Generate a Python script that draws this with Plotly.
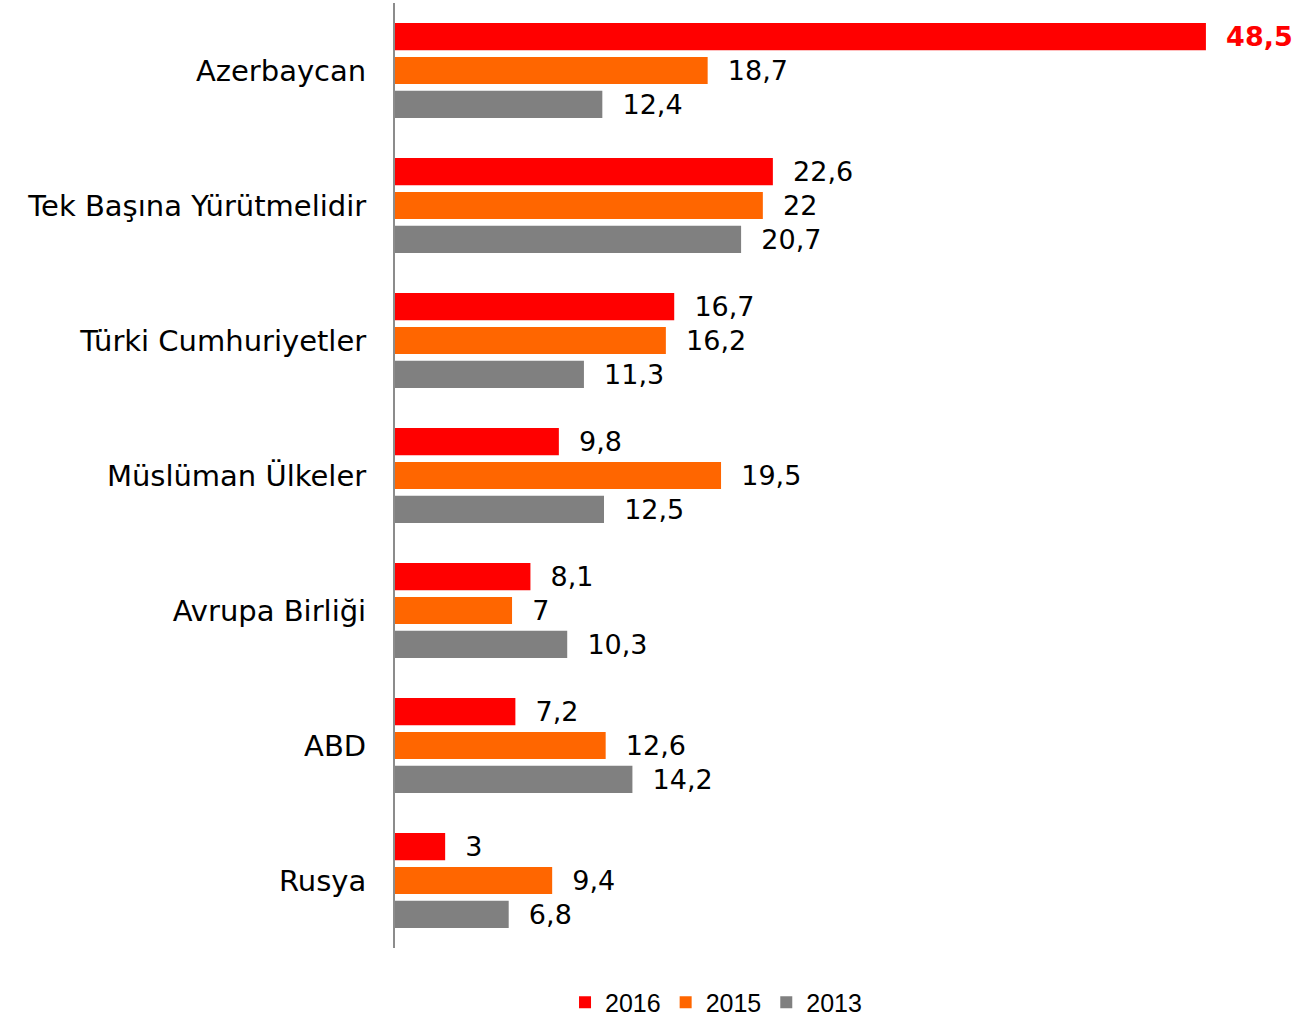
import plotly.graph_objects as go

categories = ["Azerbaycan", "Tek Başına Yürütmelidir", "Türki Cumhuriyetler",
              "Müslüman Ülkeler", "Avrupa Birliği", "ABD", "Rusya"]
series_names = ["2016", "2015", "2013"]
values_2016 = [48.5, 22.6, 16.7, 9.8, 8.1, 7.2, 3]
values_2015 = [18.7, 22, 16.2, 19.5, 7, 12.6, 9.4]
values_2013 = [12.4, 20.7, 11.3, 12.5, 10.3, 14.2, 6.8]
colors = ["#FF0000", "#FF6600", "#808080"]

LABEL_FONT = "DejaVu Sans, Verdana, sans-serif"


def fmt(v):
    return ("%g" % v).replace(".", ",")


fig = go.Figure()
all_values = [values_2016, values_2015, values_2013]
max_val = max(max(v) for v in all_values)
for name, vals, col in zip(series_names, all_values, colors):
    texts = []
    tcolors = []
    for v in vals:
        if v == max_val:
            texts.append("\u00a0\u00a0<b>" + fmt(v) + "</b>")
            tcolors.append("#FF0000")
        else:
            texts.append("\u00a0\u00a0" + fmt(v))
            tcolors.append("#000000")
    fig.add_trace(go.Bar(
        y=categories, x=vals, name=name, orientation="h",
        marker=dict(color=col, line=dict(width=0)),
        text=texts, textposition="outside", cliponaxis=False,
        constraintext="none",
        textfont=dict(family=LABEL_FONT, size=27, color=tcolors),
        hoverinfo="x+y",
    ))

fig.update_layout(
    width=1307, height=1023, autosize=False,
    margin=dict(l=395, r=76, t=3, b=75, pad=0),
    paper_bgcolor="white", plot_bgcolor="white",
    barmode="group", bargap=0.246, bargroupgap=0.2,
    showlegend=True,
    legend=dict(orientation="h", x=0.384, xanchor="center",
                yref="container", y=0.02, yanchor="middle",
                font=dict(family="Liberation Sans, Arial, sans-serif", size=25, color="#000000"),
                itemwidth=30, tracegroupgap=0),
    xaxis=dict(range=[0, 50], visible=False, showgrid=False, zeroline=False, fixedrange=True),
    yaxis=dict(autorange="reversed", showline=True, linecolor="#8C8C8C", linewidth=2,
               showgrid=False, zeroline=False, ticks="", ticklabelstandoff=21,
               tickfont=dict(family=LABEL_FONT, size=29, color="#000000")),
)

fig.write_html("out.html", config={"displayModeBar": False},
               post_script="document.body.style.margin='0';")
